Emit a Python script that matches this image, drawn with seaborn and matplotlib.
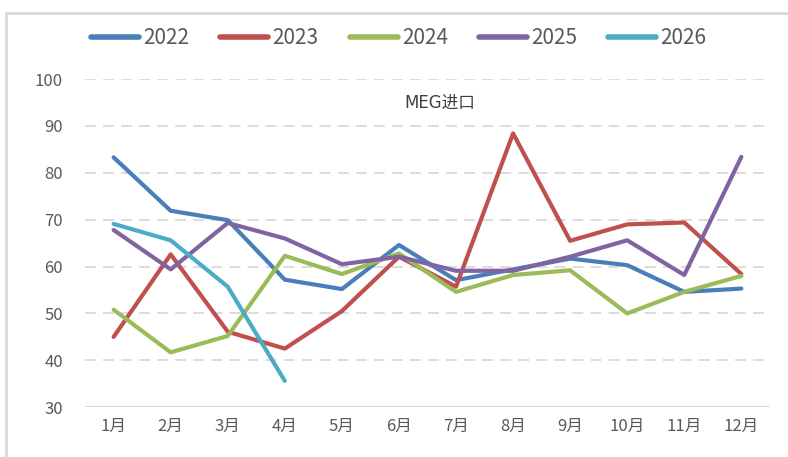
import pandas as pd
import matplotlib.pyplot as plt
import seaborn as sns
from matplotlib.patches import Rectangle

# MEG import values
months = ['1月', '2月', '3月', '4月', '5月', '6月', '7月', '8月', '9月', '10月', '11月', '12月']
v2022 = [83.3, 71.9, 69.9, 57.2, 55.2, 64.6, 57.1, 59.4, 61.7, 60.3, 54.6, 55.3]
v2023 = [45.0, 62.6, 46.1, 42.5, 50.5, 62.1, 55.7, 88.4, 65.5, 69.0, 69.4, 58.4]
v2024 = [50.8, 41.7, 45.2, 62.3, 58.4, 62.8, 54.6, 58.2, 59.2, 50.0, 54.6, 58.0]
v2025 = [67.8, 59.4, 69.3, 66.0, 60.5, 62.1, 59.1, 59.1, 62.1, 65.6, 58.2, 83.4]
v2026 = [69.1, 65.6, 55.7, 35.6]

years = ['2022', '2023', '2024', '2025', '2026']
colors = ['#4a7ebb', '#c0504d', '#9bbb59', '#8064a2', '#4bacc6']

rows = []
for yr, vals in zip(years, [v2022, v2023, v2024, v2025, v2026]):
    for i, v in enumerate(vals):
        rows.append({'month': i, 'value': v, 'year': yr})
df = pd.DataFrame(rows)

sns.set_style('white')
plt.rcParams['font.family'] = ['Noto Sans CJK SC', 'DejaVu Sans']

fig = plt.figure(figsize=(7.88, 4.57), dpi=100)
ax = fig.add_axes([0.108, 0.109, 0.869, 0.718])

sns.lineplot(data=df, x='month', y='value', hue='year', palette=colors,
             linewidth=3, sort=False, ax=ax, legend=False, solid_capstyle='round')

ax.set_xlim(-0.5, 11.5)
ax.set_ylim(30, 100)
ax.set_yticks(range(30, 101, 10))
ax.set_xticks(range(12))
ax.set_xticklabels(months)
ax.set_xlabel('')
ax.set_ylabel('')
ax.tick_params(axis='both', length=0, labelsize=12, colors='#595959')
ax.tick_params(axis='x', pad=8)
ax.tick_params(axis='y', pad=16)

for s in ax.spines.values():
    s.set_visible(False)
for yv in range(40, 101, 10):
    ax.axhline(yv, color='#d9d9d9', lw=1.3, ls=(0, (6, 4)), zorder=0)
ax.axhline(30, color='#d9d9d9', lw=1.5, zorder=0)

ax.text(0.518, 0.927, 'MEG进口', transform=ax.transAxes, ha='center', va='center',
        fontsize=12, color='#404040', family=['DejaVu Sans', 'Noto Sans CJK SC'])

handles = [plt.Line2D([], [], color=c, lw=4, solid_capstyle='round') for c in colors]
fig.legend(handles, years, loc='center', bbox_to_anchor=(0.506, 0.917), ncol=5,
           frameon=False, fontsize=15, handlelength=2.3, handletextpad=0.2,
           columnspacing=1.5, labelcolor='#595959')

fig.add_artist(Rectangle((0.008, -0.01), 1.0, 0.982, transform=fig.transFigure,
                         fill=False, edgecolor='#d9d9d9', lw=2))

fig.savefig('out.png', dpi=100)
